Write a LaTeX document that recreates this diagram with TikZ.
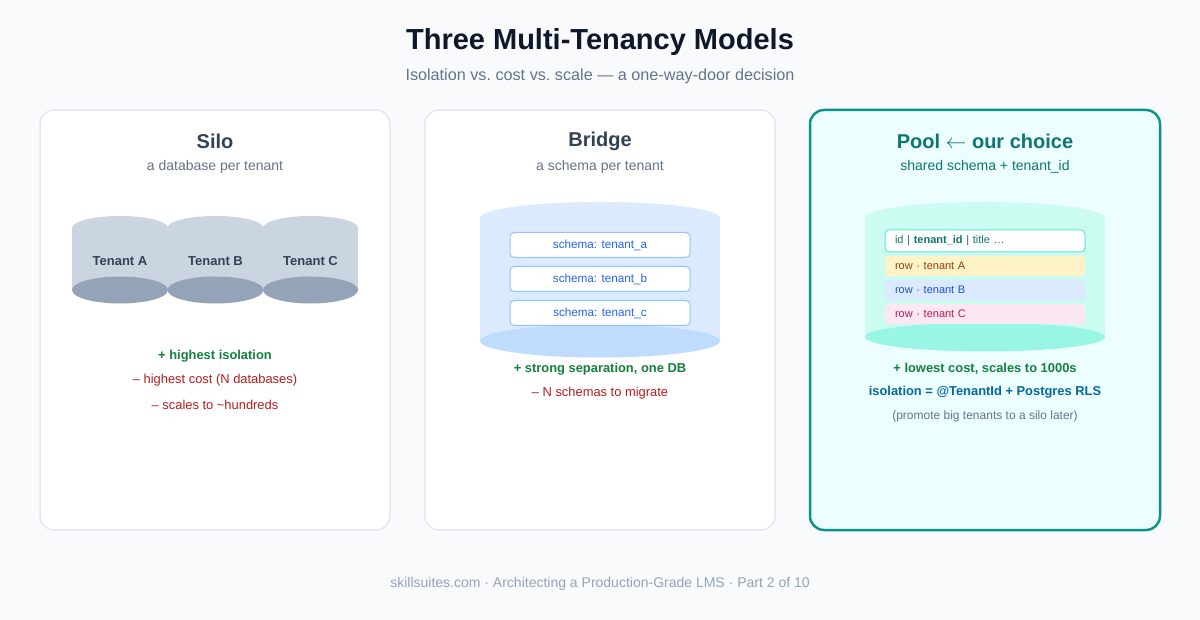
\documentclass[tikz,border=0pt]{standalone}
\usepackage{fontspec}
\setmainfont{Liberation Sans}
\usetikzlibrary{positioning}
\definecolor{pagebg}{HTML}{F8FAFC}
\definecolor{ink}{HTML}{0F172A}
\definecolor{slate}{HTML}{334155}
\definecolor{muted}{HTML}{64748B}
\definecolor{faint}{HTML}{94A3B8}
\definecolor{cardline}{HTML}{E2E8F0}
\definecolor{teal}{HTML}{0D9488}
\definecolor{tealdark}{HTML}{0F766E}
\definecolor{poolbg}{HTML}{ECFEFF}
\definecolor{good}{HTML}{15803D}
\definecolor{bad}{HTML}{B91C1C}
\definecolor{silobody}{HTML}{CBD5E1}
\definecolor{silobase}{HTML}{94A3B8}
\definecolor{bridgebody}{HTML}{DBEAFE}
\definecolor{bridgebase}{HTML}{BFDBFE}
\definecolor{schemaline}{HTML}{93C5FD}
\definecolor{schemaink}{HTML}{2563EB}
\definecolor{poolbody}{HTML}{CCFBF1}
\definecolor{poolbase}{HTML}{99F6E4}
\definecolor{headline}{HTML}{5EEAD4}
\definecolor{rowA}{HTML}{FEF3C7}
\definecolor{rowAink}{HTML}{92400E}
\definecolor{rowB}{HTML}{DBEAFE}
\definecolor{rowBink}{HTML}{1D4ED8}
\definecolor{rowC}{HTML}{FCE7F3}
\definecolor{rowCink}{HTML}{BE185D}
\definecolor{rls}{HTML}{0369A1}
\tikzset{
  card/.style={rounded corners=14pt, fill=white, draw=cardline, line width=1.5pt},
  cardtitle/.style={font=\fontsize{20}{24}\selectfont\bfseries, text=slate},
  cardsub/.style={font=\fontsize{14}{17}\selectfont, text=muted},
  pro/.style={font=\fontsize{12.9}{15}\selectfont\bfseries, text=good},
  con/.style={font=\fontsize{12.9}{15}\selectfont, text=bad},
  tenantlbl/.style={font=\fontsize{13}{15}\selectfont\bfseries, text=slate},
  schemabox/.style={draw=schemaline, line width=1pt, fill=white, rounded corners=4pt,
    minimum width=180pt, minimum height=25pt, inner sep=0pt,
    font=\fontsize{11.7}{14}\selectfont, text=schemaink},
  rowbox/.style={rounded corners=3pt, minimum width=200pt, minimum height=20pt,
    inner sep=0pt, text width=180pt, align=left, font=\fontsize{11}{13}\selectfont}
}
\begin{document}
\begin{tikzpicture}[x=1pt, y=-1pt]
  \useasboundingbox[fill=pagebg] (0,0) rectangle (1200,620);
  % heading
  \node[font=\fontsize{29}{33}\selectfont\bfseries, text=ink] (title) at (600,42) {Three Multi-Tenancy Models};
  \node[font=\fontsize{16.2}{19}\selectfont, text=muted] (subtitle) at (600,76) {Isolation vs.\ cost vs.\ scale — a one-way-door decision};
  % the three cards
  \draw[card] (40,110) rectangle (390,530);
  \draw[card] (425,110) rectangle (775,530);
  \draw[card, fill=poolbg, draw=teal, line width=2.5pt] (810,110) rectangle (1160,530);
  % Silo: one database each
  \node[cardtitle] (siloTitle) at (215,141) {Silo};
  \node[cardsub] (siloSub) at (215,166.5) {a database per tenant};
  \fill[silobody] (72,228) rectangle (168,290);
  \fill[silobody] (120,228) ellipse [x radius=48pt, y radius=12pt];
  \fill[silobase] (120,290) ellipse [x radius=48pt, y radius=13.5pt];
  \fill[silobody] (167.5,228) rectangle (263.5,290);
  \fill[silobody] (215.5,228) ellipse [x radius=48pt, y radius=12pt];
  \fill[silobase] (215.5,290) ellipse [x radius=48pt, y radius=13.5pt];
  \fill[silobody] (263,228) rectangle (358,290);
  \fill[silobody] (310.5,228) ellipse [x radius=47.5pt, y radius=12pt];
  \fill[silobase] (310.5,290) ellipse [x radius=47.5pt, y radius=13.5pt];
  \node[tenantlbl] (tenA) at (120,261) {Tenant A};
  \node[tenantlbl] (tenB) at (215.5,261) {Tenant B};
  \node[tenantlbl] (tenC) at (310.5,261) {Tenant C};
  \node[pro] (siloPro) at (215,356) {+ highest isolation};
  \node[con] (siloCon) at (215,380.5) {– highest cost (N databases)};
  \node[con] (siloScale) at (215,404.5) {– scales to \textasciitilde hundreds};
  % Bridge: one database, many schemas
  \node[cardtitle] (bridgeTitle) at (600,141) {Bridge};
  \node[cardsub] (bridgeSub) at (600,166.5) {a schema per tenant};
  \fill[bridgebody] (480,218) rectangle (720,341);
  \fill[bridgebody] (600,218) ellipse [x radius=120pt, y radius=16pt];
  \fill[bridgebase] (600,341) ellipse [x radius=120pt, y radius=16.5pt];
  \node[schemabox] (schemaA) at (600,245) {schema: tenant\_a};
  \node[schemabox] (schemaB) at (600,279) {schema: tenant\_b};
  \node[schemabox] (schemaC) at (600,313) {schema: tenant\_c};
  \node[pro] (bridgePro) at (600,369) {+ strong separation, one DB};
  \node[con] (bridgeCon) at (600,393) {– N schemas to migrate};
  % Pool: shared table, tenant_id column
  \node[cardtitle, text=tealdark] (poolTitle) at (985,141) {Pool $\leftarrow$ our choice};
  \node[cardsub, text=tealdark] (poolSub) at (985,166.5) {shared schema + tenant\_id};
  \fill[poolbody] (865,218) rectangle (1105,337);
  \fill[poolbody] (985,218) ellipse [x radius=120pt, y radius=16pt];
  \fill[poolbase] (985,337) ellipse [x radius=120pt, y radius=14.5pt];
  \node[rowbox, draw=headline, line width=1pt, fill=white, minimum height=22pt, rounded corners=4pt, text=tealdark] (poolHead) at (985,241) {id | \textbf{tenant\_id} | title …};
  \node[rowbox, fill=rowA, text=rowAink] (rowTenA) at (985,266) {row · tenant A};
  \node[rowbox, fill=rowB, text=rowBink] (rowTenB) at (985,290) {row · tenant B};
  \node[rowbox, fill=rowC, text=rowCink] (rowTenC) at (985,314) {row · tenant C};
  \node[pro] (poolPro) at (985,369) {+ lowest cost, scales to 1000s};
  \node[pro, text=rls] (poolIso) at (985,392.5) {isolation = @TenantId + Postgres RLS};
  \node[font=\fontsize{12}{14}\selectfont, text=muted] (poolNote) at (985,416.5) {(promote big tenants to a silo later)};
  % footer
  \node[font=\fontsize{14}{17}\selectfont, text=faint] (footer) at (600,584) {skillsuites.com · Architecting a Production-Grade LMS · Part 2 of 10};
\end{tikzpicture}
\end{document}
